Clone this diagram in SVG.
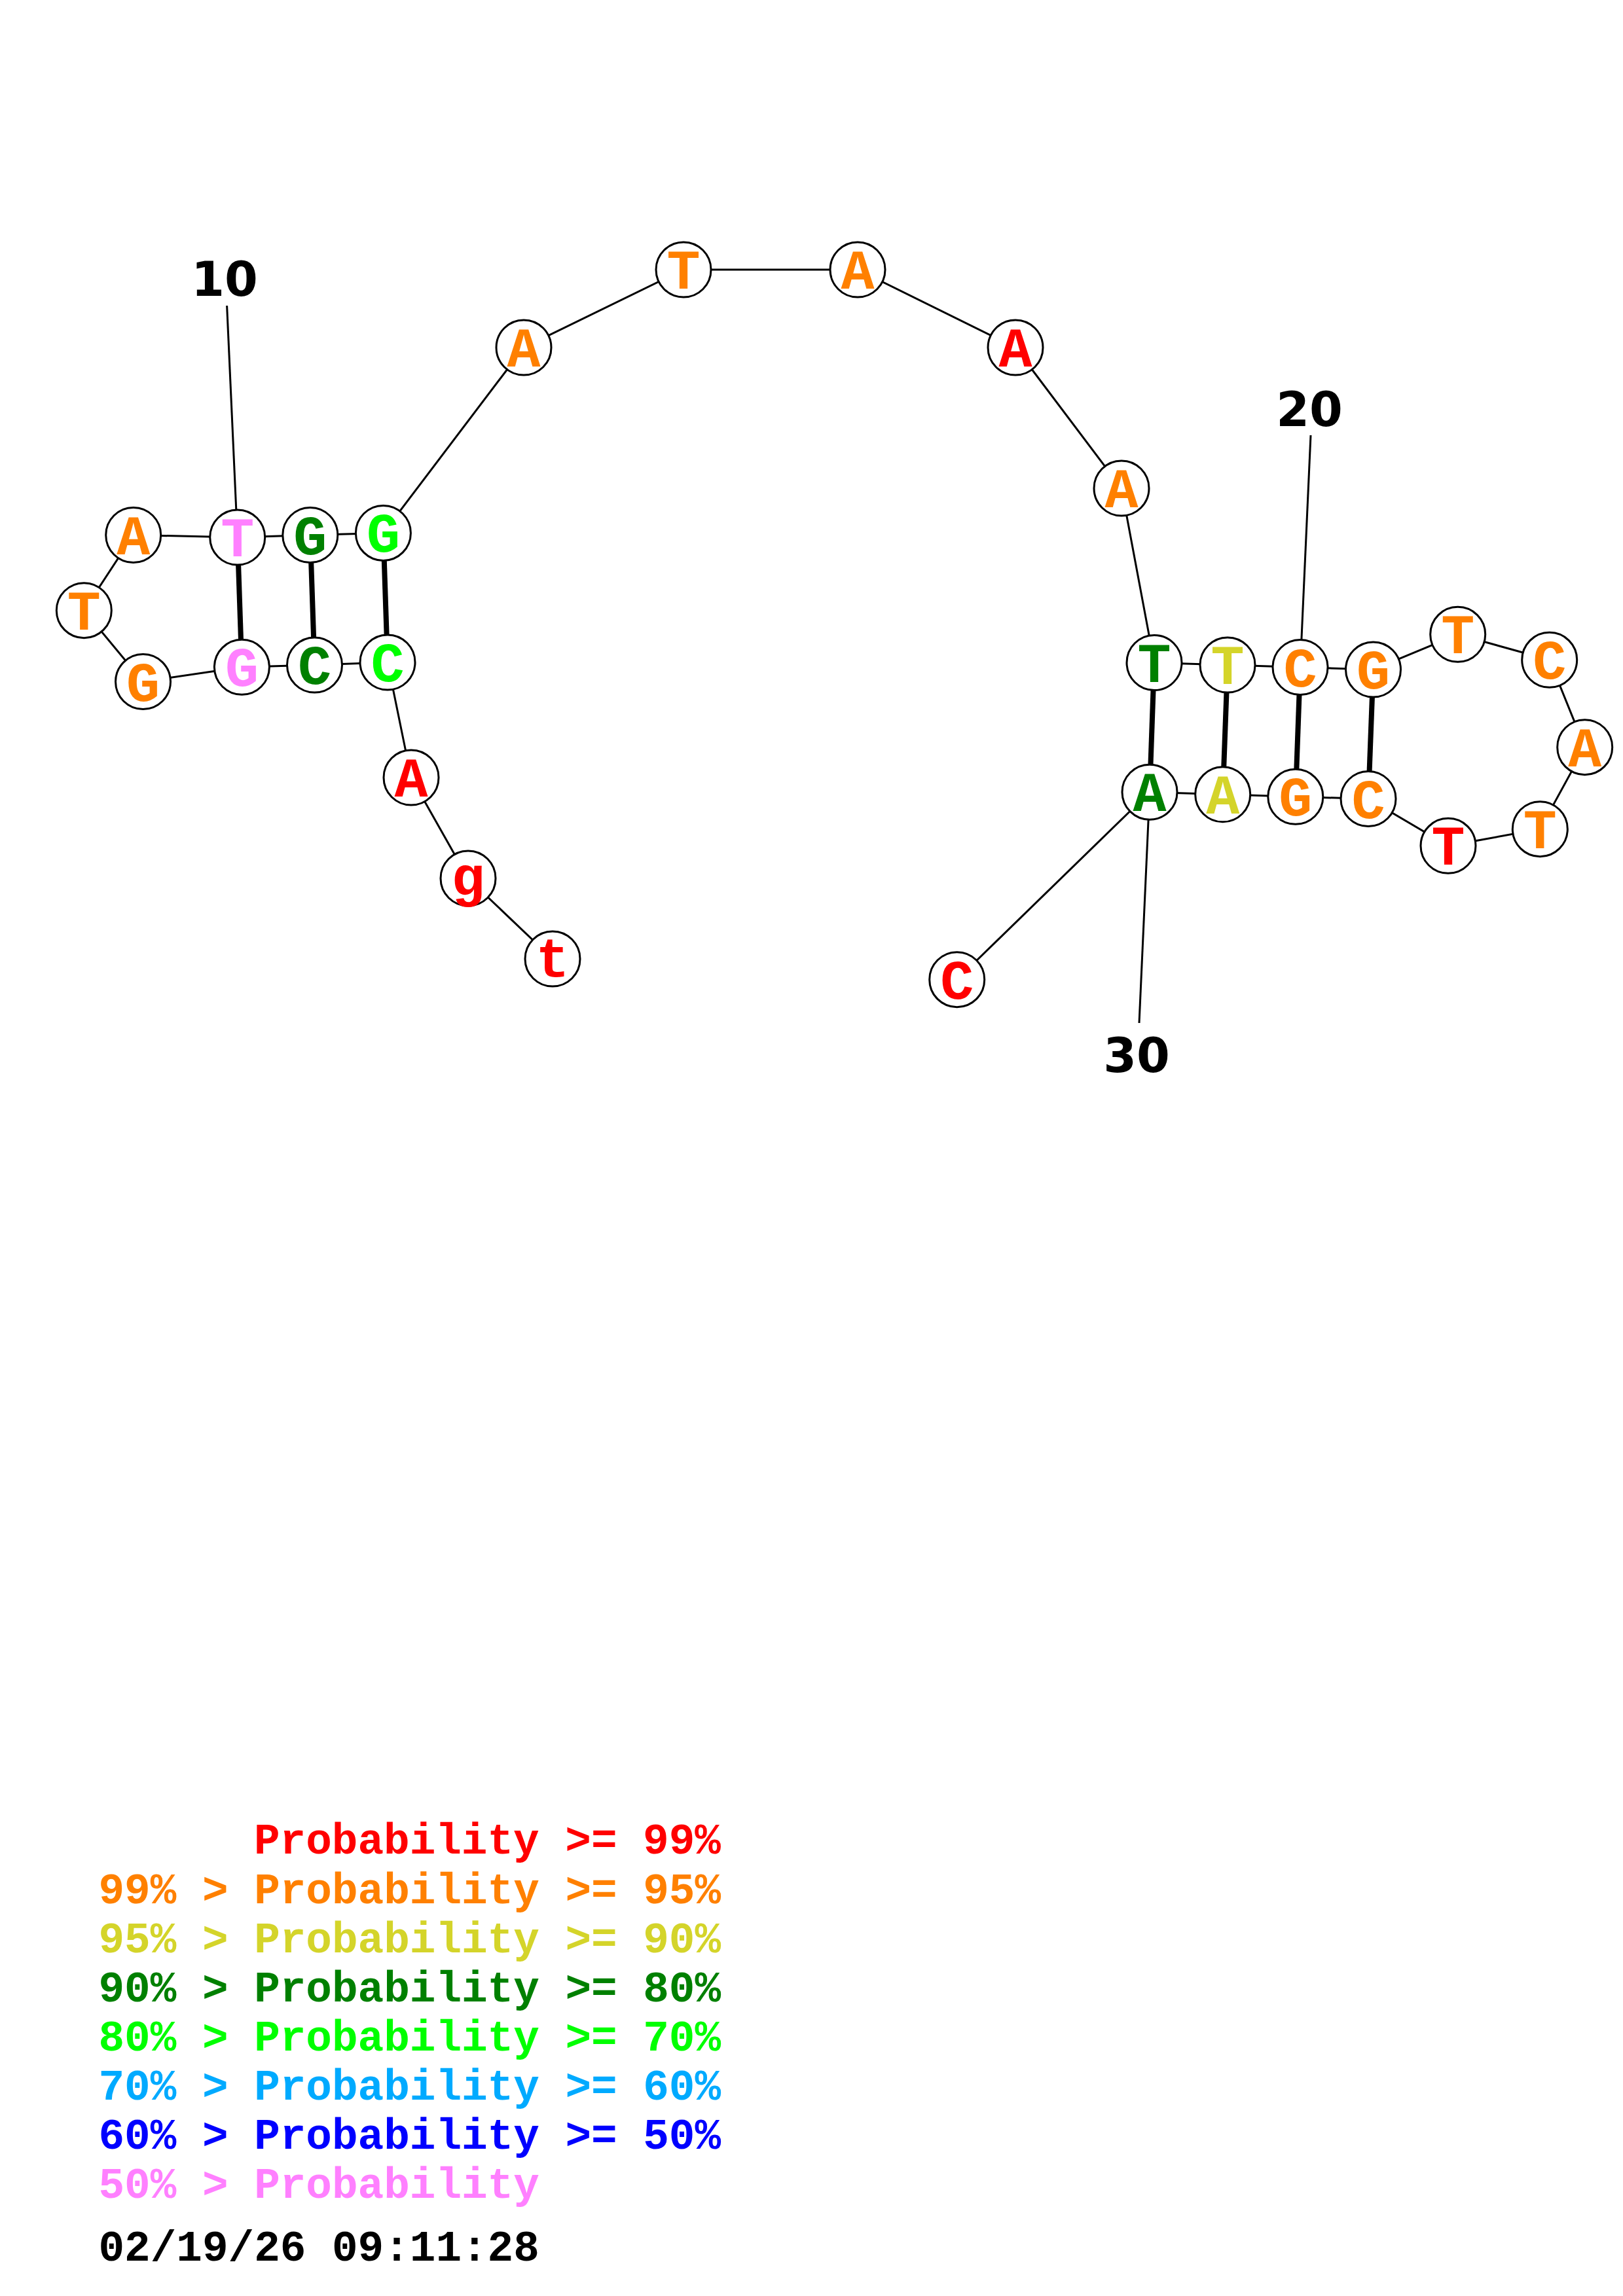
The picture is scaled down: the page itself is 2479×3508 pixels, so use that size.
<svg xmlns="http://www.w3.org/2000/svg" width="2479" height="3508" viewBox="0 0 2479 3508">
<style>
.bb{stroke:#000;stroke-width:3;fill:none}
.bp{stroke:#000;stroke-width:8;fill:none}
.nd circle{fill:#fff;stroke:#000;stroke-width:3}
.nd text{font-family:"Liberation Mono","Courier New",monospace;font-weight:bold;font-size:85px;text-anchor:middle}
.num{font-family:"DejaVu Sans",sans-serif;font-weight:bold;font-size:73px;text-anchor:middle;fill:#000}
.lg{font-family:"Liberation Mono","Courier New",monospace;font-weight:bold;font-size:66px}
.c1{fill:#FF0000}.c2{fill:#FF8000}.c3{fill:#D4D42A}.c4{fill:#008000}.c5{fill:#00FF00}.c6{fill:#00AAFF}.c7{fill:#0000FF}.c8{fill:#FF80FF}
</style>
<rect width="2479" height="3508" fill="#fff"/>
<g id="connectors">
<polyline class="bb" points="844,1465 715,1342 628,1188 592,1012 480.5,1016 369.4,1019.3 218.5,1041.6 128.3,932.7 203.7,817.5 362.7,821 473.8,817.5 585.4,814.4 800,531 1044,412 1310,412 1551,531 1713,746 1763,1012.5 1875,1016 1986,1019.5 2097.5,1023 2226.7,969.3 2366.7,1008.3 2420.7,1141.7 2352.3,1266.7 2212,1292.3 2090,1220.5 1978.8,1217.3 1867.7,1213.8 1756,1210.2 1461.7,1496.7"/>
<line class="bp" x1="592" y1="1012" x2="585.4" y2="814.4"/>
<line class="bp" x1="480.5" y1="1016" x2="473.8" y2="817.5"/>
<line class="bp" x1="369.4" y1="1019.3" x2="362.7" y2="821"/>
<line class="bp" x1="1763" y1="1012.5" x2="1756" y2="1210.2"/>
<line class="bp" x1="1875" y1="1016" x2="1867.7" y2="1213.8"/>
<line class="bp" x1="1986" y1="1019.5" x2="1978.8" y2="1217.3"/>
<line class="bp" x1="2097.5" y1="1023" x2="2090" y2="1220.5"/>
<line class="bb" x1="346.6" y1="467" x2="362.7" y2="821"/>
<line class="bb" x1="2002" y1="665" x2="1986" y2="1019.5"/>
<line class="bb" x1="1740" y1="1563" x2="1756" y2="1210.2"/>
</g>
<g id="labels">
<text class="num" x="343" y="452">10</text>
<text class="num" x="2000" y="651">20</text>
<text class="num" x="1736" y="1638">30</text>
</g>
<g id="n1" class="nd"><circle cx="844" cy="1465" r="42"/><text class="c1" x="844" y="1492">t</text></g>
<g id="n2" class="nd"><circle cx="715" cy="1342" r="42"/><text class="c1" x="715" y="1368">g</text></g>
<g id="n3" class="nd"><circle cx="628" cy="1188" r="42"/><text class="c1" x="628" y="1217">A</text></g>
<g id="n4" class="nd"><circle cx="592" cy="1012" r="42"/><text class="c5" x="592" y="1041">C</text></g>
<g id="n5" class="nd"><circle cx="480.5" cy="1016" r="42"/><text class="c4" x="480.5" y="1045">C</text></g>
<g id="n6" class="nd"><circle cx="369.4" cy="1019.3" r="42"/><text class="c8" x="369.4" y="1048.3">G</text></g>
<g id="n7" class="nd"><circle cx="218.5" cy="1041.6" r="42"/><text class="c2" x="218.5" y="1070.6">G</text></g>
<g id="n8" class="nd"><circle cx="128.3" cy="932.7" r="42"/><text class="c2" x="128.3" y="961.7">T</text></g>
<g id="n9" class="nd"><circle cx="203.7" cy="817.5" r="42"/><text class="c2" x="203.7" y="846.5">A</text></g>
<g id="n10" class="nd"><circle cx="362.7" cy="821" r="42"/><text class="c8" x="362.7" y="850">T</text></g>
<g id="n11" class="nd"><circle cx="473.8" cy="817.5" r="42"/><text class="c4" x="473.8" y="846.5">G</text></g>
<g id="n12" class="nd"><circle cx="585.4" cy="814.4" r="42"/><text class="c5" x="585.4" y="843.4">G</text></g>
<g id="n13" class="nd"><circle cx="800" cy="531" r="42"/><text class="c2" x="800" y="560">A</text></g>
<g id="n14" class="nd"><circle cx="1044" cy="412" r="42"/><text class="c2" x="1044" y="441">T</text></g>
<g id="n15" class="nd"><circle cx="1310" cy="412" r="42"/><text class="c2" x="1310" y="441">A</text></g>
<g id="n16" class="nd"><circle cx="1551" cy="531" r="42"/><text class="c1" x="1551" y="560">A</text></g>
<g id="n17" class="nd"><circle cx="1713" cy="746" r="42"/><text class="c2" x="1713" y="775">A</text></g>
<g id="n18" class="nd"><circle cx="1763" cy="1012.5" r="42"/><text class="c4" x="1763" y="1041.5">T</text></g>
<g id="n19" class="nd"><circle cx="1875" cy="1016" r="42"/><text class="c3" x="1875" y="1045">T</text></g>
<g id="n20" class="nd"><circle cx="1986" cy="1019.5" r="42"/><text class="c2" x="1986" y="1048.5">C</text></g>
<g id="n21" class="nd"><circle cx="2097.5" cy="1023" r="42"/><text class="c2" x="2097.5" y="1052">G</text></g>
<g id="n22" class="nd"><circle cx="2226.7" cy="969.3" r="42"/><text class="c2" x="2226.7" y="998.3">T</text></g>
<g id="n23" class="nd"><circle cx="2366.7" cy="1008.3" r="42"/><text class="c2" x="2366.7" y="1037.3">C</text></g>
<g id="n24" class="nd"><circle cx="2420.7" cy="1141.7" r="42"/><text class="c2" x="2420.7" y="1170.7">A</text></g>
<g id="n25" class="nd"><circle cx="2352.3" cy="1266.7" r="42"/><text class="c2" x="2352.3" y="1295.7">T</text></g>
<g id="n26" class="nd"><circle cx="2212" cy="1292.3" r="42"/><text class="c1" x="2212" y="1321.3">T</text></g>
<g id="n27" class="nd"><circle cx="2090" cy="1220.5" r="42"/><text class="c2" x="2090" y="1249.5">C</text></g>
<g id="n28" class="nd"><circle cx="1978.8" cy="1217.3" r="42"/><text class="c2" x="1978.8" y="1246.3">G</text></g>
<g id="n29" class="nd"><circle cx="1867.7" cy="1213.8" r="42"/><text class="c3" x="1867.7" y="1242.8">A</text></g>
<g id="n30" class="nd"><circle cx="1756" cy="1210.2" r="42"/><text class="c4" x="1756" y="1239.2">A</text></g>
<g id="n31" class="nd"><circle cx="1461.7" cy="1496.7" r="42"/><text class="c1" x="1461.7" y="1525.7">C</text></g>
<g id="legend" class="lg">
<text class="c1" x="388" y="2832">Probability &gt;= 99%</text>
<text class="c2" x="150.5" y="2908">99% &gt; Probability &gt;= 95%</text>
<text class="c3" x="150.5" y="2983">95% &gt; Probability &gt;= 90%</text>
<text class="c4" x="150.5" y="3058">90% &gt; Probability &gt;= 80%</text>
<text class="c5" x="150.5" y="3133">80% &gt; Probability &gt;= 70%</text>
<text class="c6" x="150.5" y="3208">70% &gt; Probability &gt;= 60%</text>
<text class="c7" x="150.5" y="3283">60% &gt; Probability &gt;= 50%</text>
<text class="c8" x="150.5" y="3358">50% &gt; Probability</text>
<text x="150.5" y="3454" fill="#000">02/19/26 09:11:28</text>
</g>
</svg>
